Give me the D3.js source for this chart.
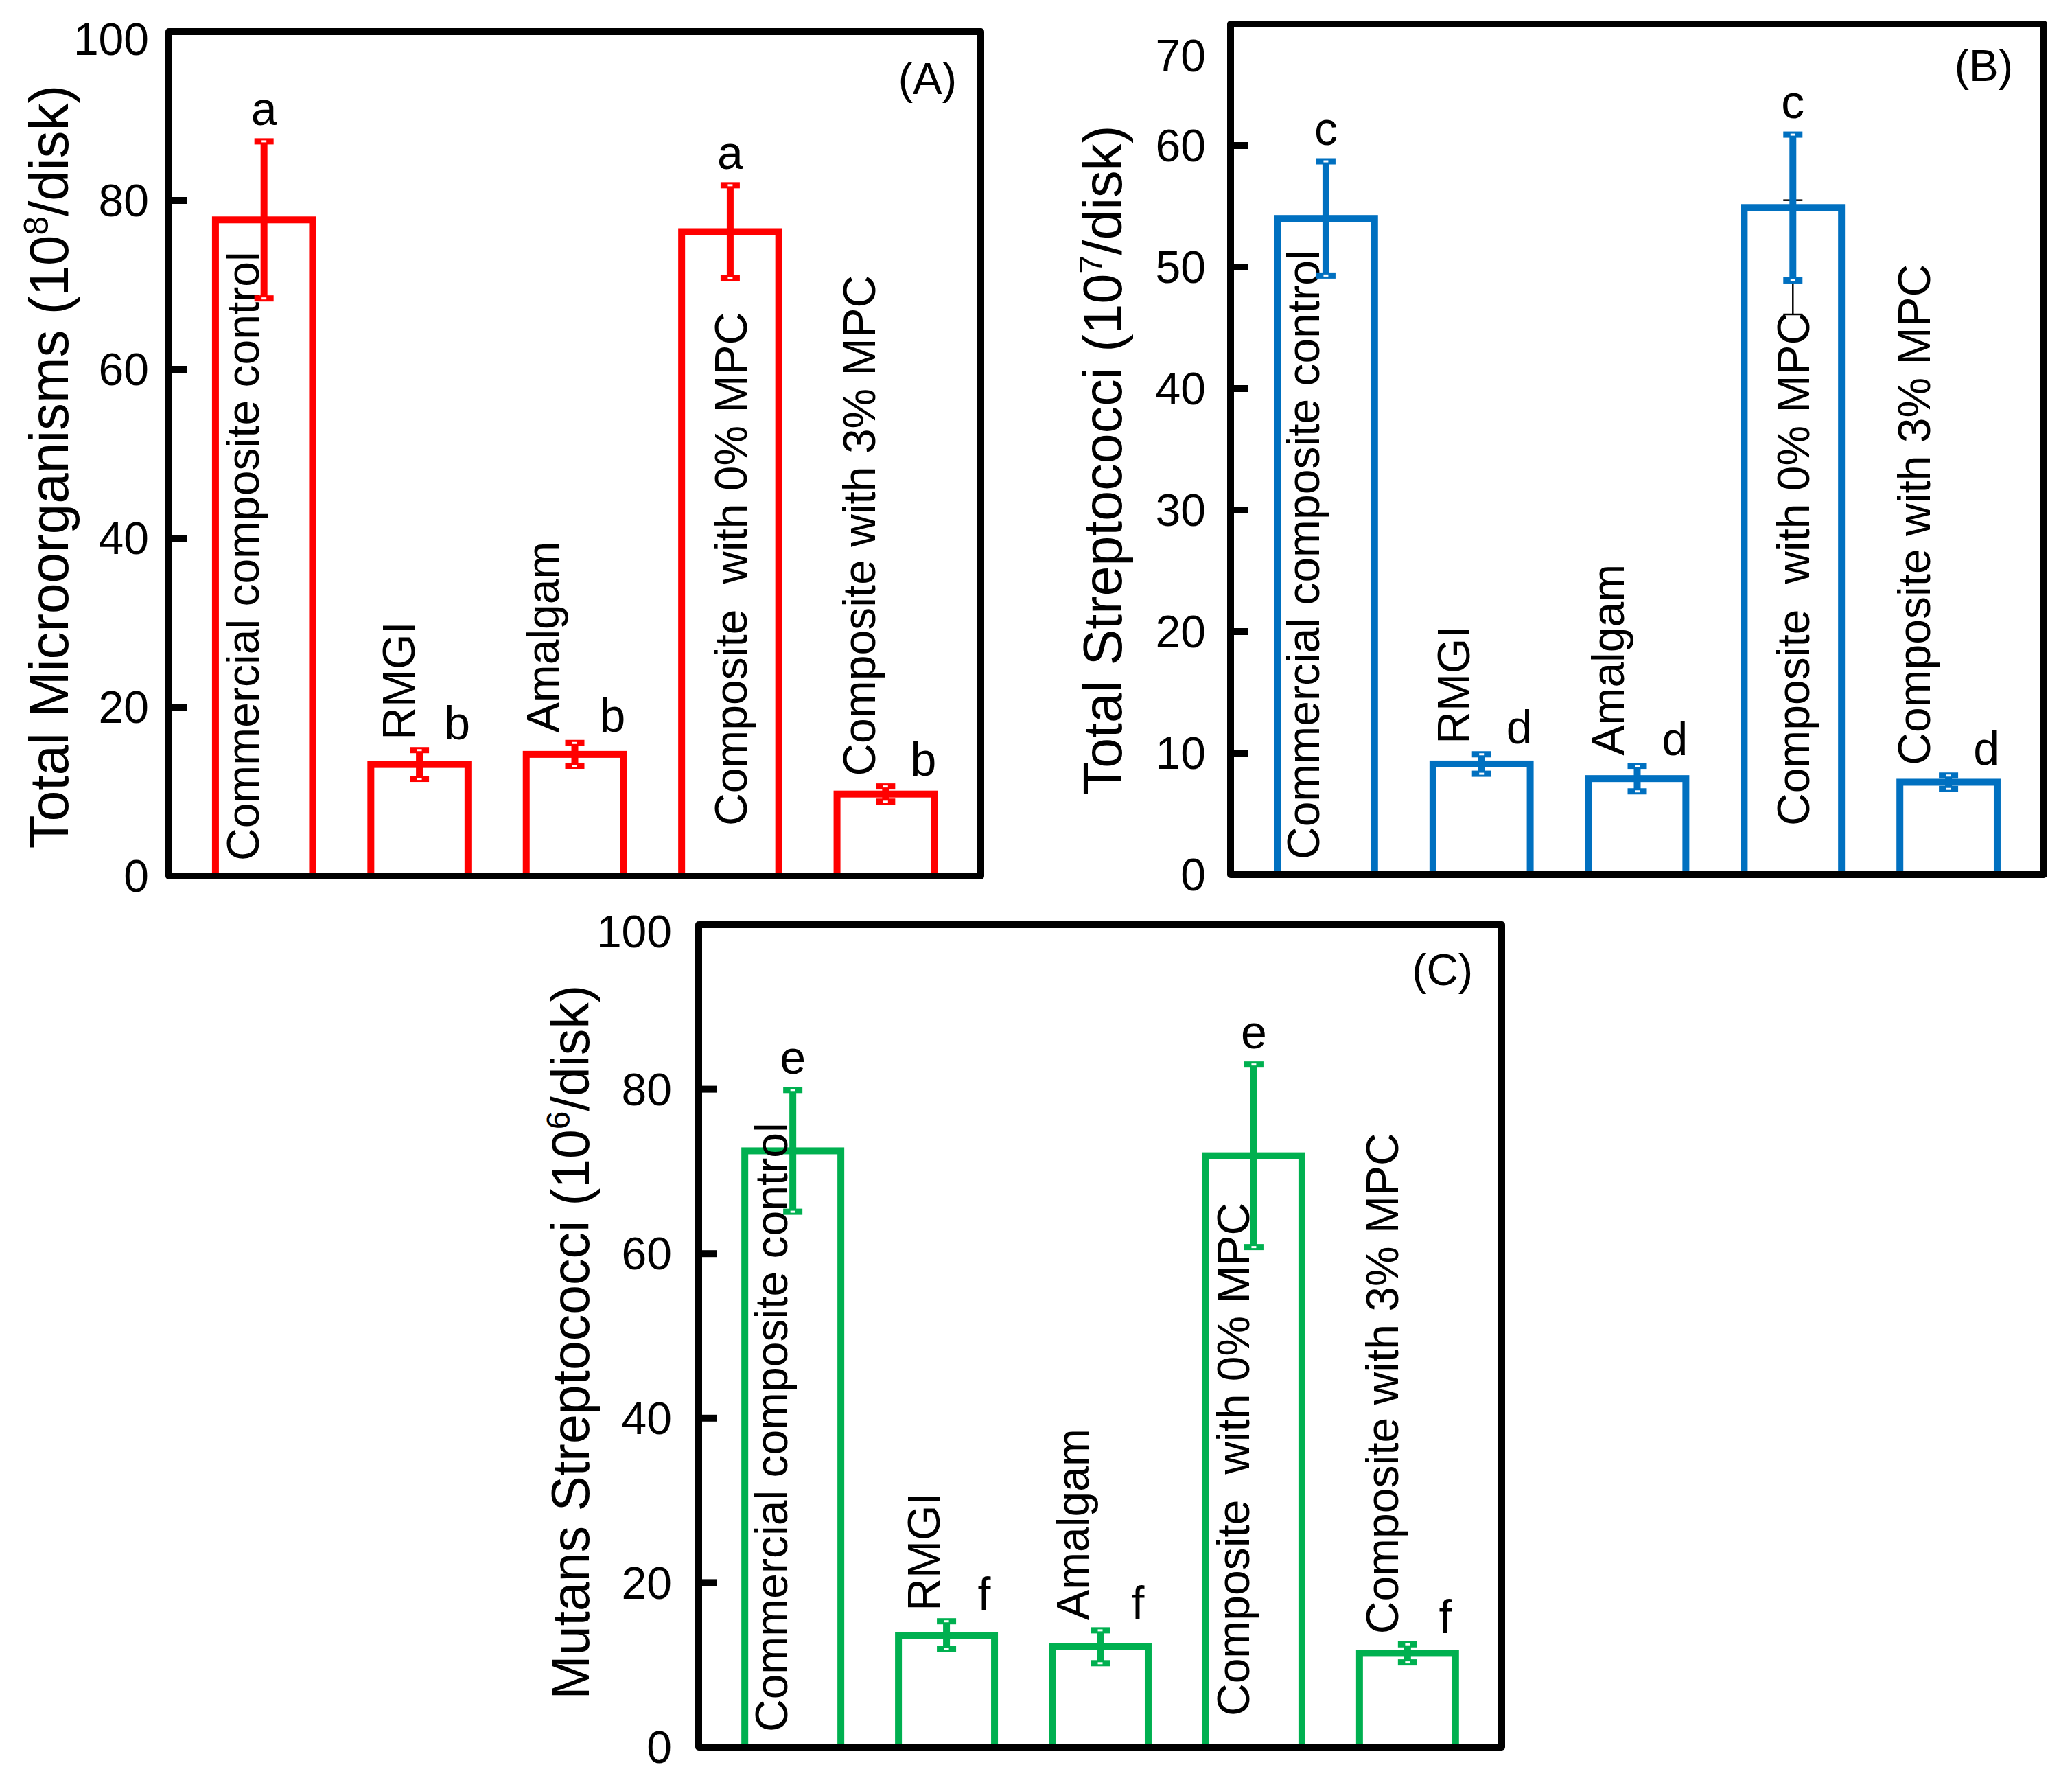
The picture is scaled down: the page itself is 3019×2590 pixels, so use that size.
<!DOCTYPE html>
<html>
<head>
<meta charset="UTF-8">
<title>Bacterial counts on restorative materials</title>
<style>
  body { margin: 0; background: #fff; }
  text { font-family: "Liberation Sans", Arial, sans-serif; }
</style>
</head>
<body>
<script src="https://cdn.jsdelivr.net/npm/d3@7"></script>
<script>
// categories (note the double space in the 4th one, as in the figure)
var categories = ["Commercial composite control", "RMGI", "Amalgam", "Composite  with 0% MPC", "Composite with 3% MPC"];

// panel A: total microorganisms (10^8/disk)
var valuesA = [77.7, 13.2, 14.4, 76.3, 9.7];
var errorsA = [9.3, 1.7, 1.35, 5.5, 0.9];
var lettersA = ["a", "b", "b", "a", "b"];
var ticksA = [0, 20, 40, 60, 80, 100];

// panel B: total streptococci (10^7/disk)
var valuesB = [54.0, 9.1, 7.9, 54.9, 7.6];
var errorsB = [4.7, 0.8, 1.05, 6.0, 0.55];
var lettersB = ["c", "d", "d", "c", "d"];
var ticksB = [0, 10, 20, 30, 40, 50, 60, 70];
// thin black error bar left behind the 4th bar of panel B
var ghostErrorB = [46.1, 55.5];

// panel C: mutans streptococci (10^6/disk)
var valuesC = [72.5, 13.6, 12.2, 71.9, 11.4];
var errorsC = [7.4, 1.7, 2.0, 11.1, 1.1];
var lettersC = ["e", "f", "f", "e", "f"];
var ticksC = [0, 20, 40, 60, 80, 100];

var width = 3019, height = 2590;
var svg = d3.select("body").append("svg")
    .attr("width", width)
    .attr("height", height);

// layout of the three panels
var panels = [
  {x0: 246, x1: 1429, y0: 46, y1: 1276, color: "#FF0000",
   values: valuesA, errors: errorsA, letters: lettersA, ticks: ticksA,
   title: ["Total Microorganisms (10", "8", "/disk)"], tag: "(A)", titleFont: 80,
   tickGap: 29, titleGap: 147, titleShift: 19, topDrop: 11,
   tagRight: 35, tagDown: 91, labelDx: [-8, -7, -24, 24, -15], lift4: 73},
  {x0: 1793, x1: 2978, y0: 35, y1: 1274, color: "#0070C0",
   values: valuesB, errors: errorsB, letters: lettersB, ticks: ticksB, ghost: ghostErrorB,
   title: ["Total Streptococci (10", "7", "/disk)"], tag: "(B)", titleFont: 79,
   tickGap: 36, titleGap: 159, titleShift: 16, topDrop: 46,
   tagRight: 45, tagDown: 83, labelDx: [-10, -18, -20, 24, -27], lift4: 71},
  {x0: 1018, x1: 2188, y0: 1347, y1: 2545, color: "#00B050",
   values: valuesC, errors: errorsC, letters: lettersC, ticks: ticksC,
   title: ["Mutans Streptococci (10", "6", "/disk)"], tag: "(C)", titleFont: 77,
   tickGap: 39, titleGap: 160, titleShift: 9, topDrop: 10,
   tagRight: 42, tagDown: 88, labelDx: [-8, -10, -17, -7, -14], lift4: 45}
];

var lw = 10;          // line width of frame, bars and error bars
var tickFont = 66, labelFont = 66, letterFont = 68, tagFont = 64;

panels.forEach(function(p) {
  var g = svg.append("g");
  var ymax = p.ticks[p.ticks.length - 1];

  var x = d3.scaleBand()
      .domain(categories)
      .range([p.x0, p.x1])
      .paddingInner(0.375)
      .paddingOuter(0.3);
  var y = d3.scaleLinear()
      .domain([0, ymax])
      .range([p.y1, p.y0]);

  var rows = categories.map(function(c, i) {
    return {cat: c, i: i, v: p.values[i], e: p.errors[i], letter: p.letters[i]};
  });
  var cx = function(d) { return x(d.cat) + x.bandwidth() / 2; };

  // hollow bars
  g.selectAll("rect.bar").data(rows).enter().append("rect")
      .attr("class", "bar")
      .attr("x", function(d) { return x(d.cat); })
      .attr("y", function(d) { return y(d.v); })
      .attr("width", x.bandwidth())
      .attr("height", function(d) { return y(0) - y(d.v); })
      .attr("fill", "none")
      .attr("stroke", p.color)
      .attr("stroke-width", lw);

  // rotated category names: inside tall bars, above short ones
  g.selectAll("text.cat").data(rows).enter().append("text")
      .attr("class", "cat")
      .attr("xml:space", "preserve")
      .style("white-space", "pre")
      .attr("transform", function(d) {
        var start;
        if (d.v > 40) start = y(0) - (d.i === 3 ? p.lift4 : 22);
        else start = y(d.v + d.e) - 15;
        return "translate(" + (cx(d) + p.labelDx[d.i]) + "," + start + ") rotate(-90)";
      })
      .attr("font-size", labelFont)
      .attr("fill", "#000")
      .text(function(d) { return d.cat; });

  // stray thin error bar (panel B only)
  if (p.ghost) {
    var gx = x(categories[3]) + x.bandwidth() / 2;
    var gg = g.append("g").attr("stroke", "#000").attr("stroke-width", 2.5);
    gg.append("line").attr("x1", gx).attr("x2", gx)
        .attr("y1", y(p.ghost[0])).attr("y2", y(p.ghost[1]));
    p.ghost.forEach(function(v) {
      gg.append("line").attr("x1", gx - 14).attr("x2", gx + 14)
          .attr("y1", y(v)).attr("y2", y(v));
    });
  }

  // error bars with small boxed caps
  var eb = g.selectAll("g.err").data(rows).enter().append("g").attr("class", "err");
  eb.append("line")
      .attr("x1", cx).attr("x2", cx)
      .attr("y1", function(d) { return y(d.v + d.e); })
      .attr("y2", function(d) { return y(d.v - d.e); })
      .attr("stroke", p.color)
      .attr("stroke-width", lw);
  [1, -1].forEach(function(s) {
    eb.append("rect")
        .attr("x", function(d) { return cx(d) - 14; })
        .attr("y", function(d) { return y(d.v + s * d.e) - 4.5; })
        .attr("width", 28).attr("height", 9)
        .attr("fill", p.color);
    eb.append("rect")
        .attr("x", function(d) { return cx(d) - 3.5; })
        .attr("y", function(d) { return y(d.v + s * d.e) - 1.5; })
        .attr("width", 7).attr("height", 3)
        .attr("fill", "#fff");
  });

  // significance letters
  g.selectAll("text.sig").data(rows).enter().append("text")
      .attr("class", "sig")
      .attr("x", function(d) { return cx(d) + (d.v > 40 ? 0 : 55); })
      .attr("y", function(d) { return y(d.v + d.e) - (d.v > 40 ? 24 : 16); })
      .attr("text-anchor", "middle")
      .attr("font-size", letterFont)
      .attr("fill", "#000")
      .text(function(d) { return d.letter; });

  // y axis: inward ticks and labels
  g.selectAll("line.tick").data(p.ticks.slice(1, -1)).enter().append("line")
      .attr("class", "tick")
      .attr("x1", p.x0).attr("x2", p.x0 + 26)
      .attr("y1", y).attr("y2", y)
      .attr("stroke", "#000")
      .attr("stroke-width", lw);
  g.selectAll("text.tick").data(p.ticks).enter().append("text")
      .attr("class", "tick")
      .attr("x", p.x0 - p.tickGap)
      .attr("y", function(d) { return y(d) + (d === ymax ? p.topDrop : 0); })
      .attr("dy", "0.35em")
      .attr("text-anchor", "end")
      .attr("font-size", tickFont)
      .attr("fill", "#000")
      .text(function(d) { return d; });

  // frame
  g.append("rect")
      .attr("x", p.x0).attr("y", p.y0)
      .attr("width", p.x1 - p.x0).attr("height", p.y1 - p.y0)
      .attr("fill", "none")
      .attr("stroke", "#000")
      .attr("stroke-width", lw)
      .attr("stroke-linejoin", "round");

  // y axis title with superscript exponent
  var tf = p.titleFont;
  var t = g.append("text")
      .attr("transform", "translate(" + (p.x0 - p.titleGap) + "," + ((p.y0 + p.y1) / 2 + p.titleShift) + ") rotate(-90)")
      .attr("text-anchor", "middle")
      .attr("font-size", tf)
      .attr("fill", "#000");
  t.append("tspan").text(p.title[0]);
  t.append("tspan").attr("font-size", tf * 0.62).attr("dy", -tf * 0.36).text(p.title[1]);
  t.append("tspan").attr("dy", tf * 0.36).text(p.title[2]);

  // panel tag
  g.append("text")
      .attr("x", p.x1 - p.tagRight)
      .attr("y", p.y0 + p.tagDown)
      .attr("text-anchor", "end")
      .attr("font-size", tagFont)
      .attr("fill", "#000")
      .text(p.tag);
});
</script>
</body>
</html>
